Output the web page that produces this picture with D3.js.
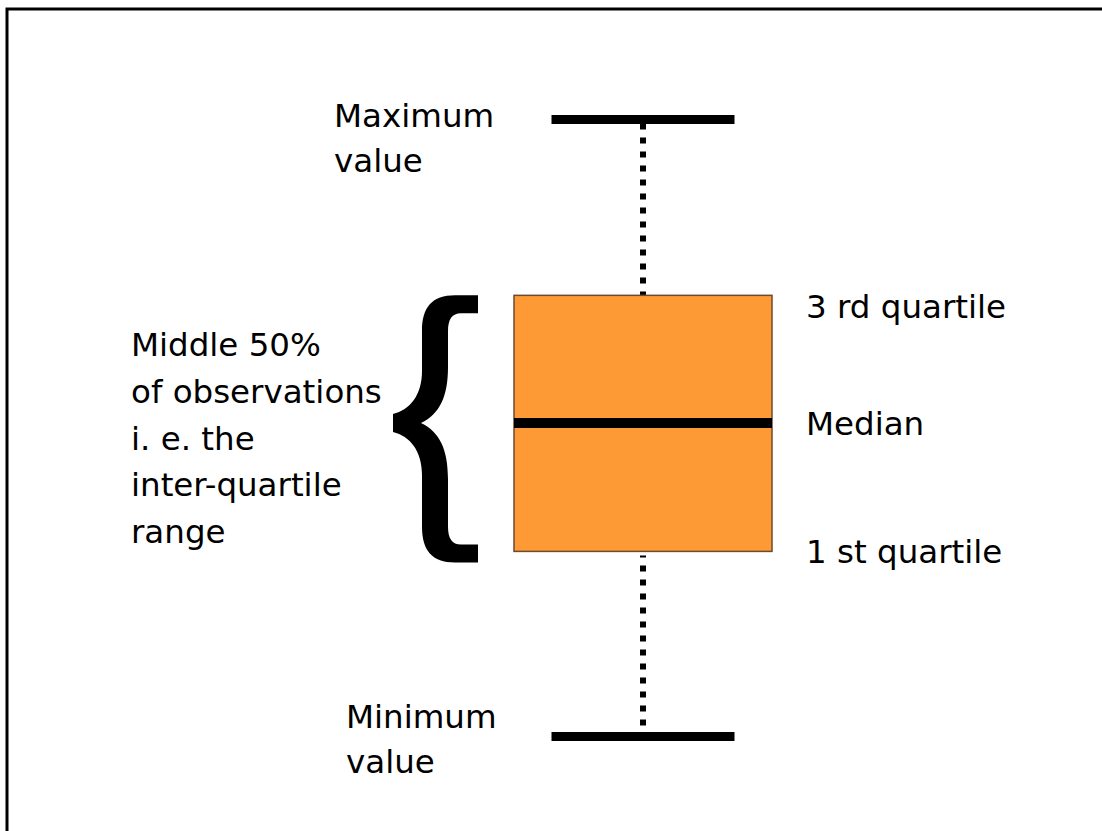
<!DOCTYPE html>
<html>
<head>
<meta charset="utf-8">
<script src="https://cdn.jsdelivr.net/npm/d3@7"></script>
<style>
  body { margin: 0; background: #fff; }
  svg { display: block; }
  text { font-family: "DejaVu Sans", Verdana, sans-serif; font-size: 32.5px; fill: #000; }
</style>
</head>
<body>
<div class="chart"></div>
<script>
// five-number summary (illustrative scale 0..100)
const statKeys = ['min', 'q1', 'median', 'q3', 'max'];
const statValues = [0, 30, 50.8, 71.5, 100];
const maxLabel = ['Maximum', 'value'];
const minLabel = ['Minimum', 'value'];
const rightLabels = ['3 rd quartile', 'Median', '1 st quartile'];
const rightKeys = ['q3', 'median', 'q1'];
const braceLabel = ['Middle 50%', 'of observations', 'i. e. the', 'inter-quartile', 'range'];

const W = 1102, H = 831;
const stat = {};
statKeys.forEach((k, i) => { stat[k] = statValues[i]; });

const y = d3.scaleLinear().domain([0, 100]).range([736.5, 119.5]);
const x = d3.scaleBand().domain(['box']).range([514, 772]);
const cx = x('box') + x.bandwidth() / 2;

const svg = d3.select('.chart')
  .append('svg')
    .attr('width', W)
    .attr('height', H);

// frame
svg.append('rect')
  .attr('x', 7).attr('y', 9)
  .attr('width', W).attr('height', H)
  .attr('fill', 'none')
  .attr('stroke', '#000')
  .attr('stroke-width', 3);

// dotted whiskers
const whiskers = [[stat.max, stat.q3], [stat.q1, stat.min]];
svg.selectAll('line.whisker')
  .data(whiskers)
  .enter()
  .append('line')
    .attr('class', 'whisker')
    .attr('x1', cx).attr('x2', cx)
    .attr('y1', d => y(d[0]) + 4)
    .attr('y2', d => y(d[1]))
    .attr('stroke', '#000')
    .attr('stroke-width', 6)
    .attr('stroke-dasharray', '6,8')
    .attr('stroke-dashoffset', (d, i) => i === 0 ? 0 : -10);

// caps
const capW = 183;
svg.selectAll('line.cap')
  .data([stat.max, stat.min])
  .enter()
  .append('line')
    .attr('class', 'cap')
    .attr('x1', cx - capW / 2).attr('x2', cx + capW / 2)
    .attr('y1', d => y(d)).attr('y2', d => y(d))
    .attr('stroke', '#000')
    .attr('stroke-width', 9);

// box
svg.append('rect')
  .attr('x', x('box'))
  .attr('y', y(stat.q3))
  .attr('width', x.bandwidth())
  .attr('height', y(stat.q1) - y(stat.q3))
  .attr('fill', '#fd9a36')
  .attr('stroke', '#6b4a30')
  .attr('stroke-width', 1.5);

// median
svg.append('line')
  .attr('x1', x('box')).attr('x2', x('box') + x.bandwidth())
  .attr('y1', y(stat.median)).attr('y2', y(stat.median))
  .attr('stroke', '#000')
  .attr('stroke-width', 10);

// curly brace spanning the inter-quartile range
const brace = (T, M, B) => {
  const p = d3.path();
  p.moveTo(478, T);
  p.lineTo(455, T);
  p.bezierCurveTo(432, T, 422, T + 12, 422, T + 36);
  p.lineTo(422, M - 52);
  p.bezierCurveTo(422, M - 28, 410, M - 13, 393, M - 9);
  p.lineTo(393, M + 9);
  p.bezierCurveTo(410, M + 13, 422, M + 28, 422, M + 52);
  p.lineTo(422, B - 36);
  p.bezierCurveTo(422, B - 12, 432, B, 455, B);
  p.lineTo(478, B);
  p.lineTo(478, B - 18);
  p.lineTo(461, B - 18);
  p.bezierCurveTo(452, B - 18, 448, B - 24, 448, B - 36);
  p.lineTo(448, M + 56);
  p.bezierCurveTo(448, M + 27, 440, M + 9, 421, M);
  p.bezierCurveTo(440, M - 9, 448, M - 27, 448, M - 56);
  p.lineTo(448, T + 36);
  p.bezierCurveTo(448, T + 24, 452, T + 18, 461, T + 18);
  p.lineTo(478, T + 18);
  p.closePath();
  return p.toString();
};
svg.append('path')
  .attr('d', brace(y(stat.q3), y(stat.median), y(stat.q1) + 11))
  .attr('fill', '#000');

// labels
const addLines = (lines, lx, baseline, lineH) => {
  svg.append('text')
    .attr('x', lx)
    .attr('y', baseline)
    .selectAll('tspan')
    .data(lines)
    .enter()
    .append('tspan')
      .attr('x', lx)
      .attr('dy', (d, i) => i === 0 ? 0 : lineH)
      .text(d => d);
};
addLines(maxLabel, 334, y(stat.max) + 7, 45);
addLines(minLabel, 346, y(stat.min) - 9, 45);
addLines(braceLabel, 131, 356, 46.8);

svg.selectAll('text.right')
  .data(rightKeys)
  .enter()
  .append('text')
    .attr('class', 'right')
    .attr('x', 806)
    .attr('y', (d, i) => y(stat[d]) + [23, 12, 12][i])
    .text((d, i) => rightLabels[i]);
</script>
</body>
</html>
